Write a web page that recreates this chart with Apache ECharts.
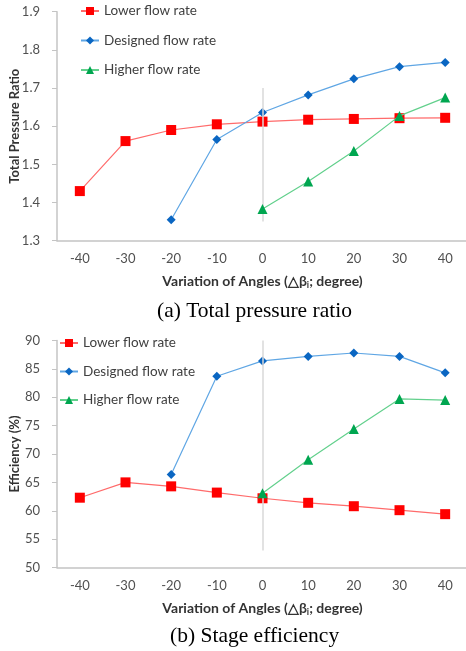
<!DOCTYPE html>
<html>
<head>
<meta charset="utf-8">
<title>Pressure ratio and efficiency</title>
<script src="https://cdn.jsdelivr.net/npm/echarts@6/dist/echarts.min.js"></script>
<style>
  html, body { margin: 0; padding: 0; background: #fff; }
  #chart { width: 466px; height: 651px; }
</style>
</head>
<body>
<div id="chart"></div>
<script>
// x categories (angle variation, degree)
const angles = ["-40", "-30", "-20", "-10", "0", "10", "20", "30", "40"];
const seriesNames = ["Lower flow rate", "Designed flow rate", "Higher flow rate"];

// (a) total pressure ratio
const prLower = [1.43, 1.561, 1.59, 1.605, 1.612, 1.617, 1.619, 1.621, 1.622];
const prDesigned = [null, null, 1.355, 1.565, 1.636, 1.682, 1.724, 1.756, 1.767];
const prHigher = [null, null, null, null, 1.383, 1.455, 1.535, 1.627, 1.675];
const prRefLine = [1.7, 1.35];

// (b) stage efficiency (%)
const effLower = [62.3, 65.0, 64.3, 63.2, 62.2, 61.4, 60.8, 60.1, 59.4];
const effDesigned = [null, null, 66.4, 83.7, 86.4, 87.2, 87.8, 87.2, 84.3];
const effHigher = [null, null, null, null, 63.1, 69.0, 74.4, 79.7, 79.5];
const effRefLine = [90, 53];

const FONT = "Lato";
const looks = [
  { symbol: "rect", size: 10, mark: "#ff0000", line: "#ff6b6b" },
  { symbol: "diamond", size: 9, mark: "#0a66c2", line: "#5fa6e4" },
  { symbol: "triangle", size: 10, mark: "#00a650", line: "#62d08c" },
];

const xName = "Variation of Angles (△β{sub|i}; degree)";

function xAxisFor(gridIndex) {
  return {
    type: "category",
    gridIndex,
    data: angles,
    boundaryGap: true,
    axisLine: { lineStyle: { color: "#c4c4c4", width: 1.5 } },
    axisTick: { alignWithLabel: true, length: 4, lineStyle: { color: "#c4c4c4" } },
    axisLabel: { color: "#505050", fontSize: 13, fontFamily: FONT, margin: 12 },
    name: xName,
    nameLocation: "middle",
    nameGap: 33,
    nameMoveOverlap: false,
    nameTextStyle: {
      color: "#333", fontSize: 14, fontWeight: "bold", fontFamily: FONT,
      rich: { sub: { fontSize: 9, fontWeight: "bold", fontFamily: FONT, color: "#333", verticalAlign: "bottom", padding: [7, 0, 0, 0] } },
    },
  };
}

function yAxisFor(gridIndex, min, max, interval, name, fmt) {
  return {
    type: "value",
    gridIndex,
    min, max, interval,
    splitLine: { show: false },
    axisLine: { show: true, lineStyle: { color: "#c4c4c4", width: 1.5 } },
    axisTick: { show: true, length: 5, lineStyle: { color: "#c4c4c4" } },
    axisLabel: { color: "#505050", fontSize: 13, fontFamily: FONT, margin: 17, formatter: fmt },
    name,
    nameLocation: "middle",
    nameGap: 36,
    nameMoveOverlap: false,
    nameTextStyle: { color: "#333", fontSize: 13, fontWeight: "bold", fontFamily: FONT },
  };
}

function lineSeries(idx, axisIndex, data) {
  const l = looks[idx];
  return {
    name: seriesNames[idx],
    type: "line",
    xAxisIndex: axisIndex,
    yAxisIndex: axisIndex,
    data,
    z: 3 + idx,
    symbol: l.symbol,
    symbolSize: l.size,
    showAllSymbol: true,
    connectNulls: false,
    itemStyle: { color: l.mark },
    lineStyle: { color: l.line, width: 1.2 },
    emphasis: { disabled: true },
  };
}

function refSeries(axisIndex, ends) {
  return {
    type: "line",
    xAxisIndex: axisIndex,
    yAxisIndex: axisIndex,
    data: [],
    z: 1,
    silent: true,
    markLine: {
      silent: true,
      symbol: "none",
      label: { show: false },
      lineStyle: { color: "#d9d9d9", width: 1.5, type: "solid" },
      data: [[{ coord: ["0", ends[0]] }, { coord: ["0", ends[1]] }]],
    },
  };
}

function legendFor(left, top, gap) {
  return {
    orient: "vertical",
    left, top,
    itemGap: gap,
    itemWidth: 18,
    itemHeight: 10,
    data: seriesNames,
    textStyle: { color: "#404040", fontSize: 13.5, fontFamily: FONT, lineHeight: 14 },
  };
}

const chart = echarts.init(document.getElementById("chart"));
chart.setOption({
  animation: false,
  grid: [
    { left: 57, top: 11.7, width: 411, height: 229, outerBoundsMode: "none", containLabel: false },
    { left: 57, top: 340.5, width: 411, height: 227, outerBoundsMode: "none", containLabel: false },
  ],
  legend: [legendFor(75, -1, 15.5), legendFor(54, 331, 14.5)],
  xAxis: [xAxisFor(0), xAxisFor(1)],
  yAxis: [
    yAxisFor(0, 1.3, 1.9, 0.1, "Total Pressure Ratio", v => v.toFixed(1)),
    yAxisFor(1, 50, 90, 5, "Efficiency (%)", v => String(v)),
  ],
  graphic: [
    { type: "text", left: 254 - 97, top: 300, style: { text: "(a) Total pressure ratio", font: "21.5px 'Liberation Serif'", fill: "#000" } },
    { type: "text", left: 254 - 84, top: 625, style: { text: "(b) Stage efficiency", font: "21.5px 'Liberation Serif'", fill: "#000" } },
  ],
  series: [
    refSeries(0, prRefLine),
    lineSeries(0, 0, prLower),
    lineSeries(1, 0, prDesigned),
    lineSeries(2, 0, prHigher),
    refSeries(1, effRefLine),
    lineSeries(0, 1, effLower),
    lineSeries(1, 1, effDesigned),
    lineSeries(2, 1, effHigher),
  ],
});
</script>
</body>
</html>
